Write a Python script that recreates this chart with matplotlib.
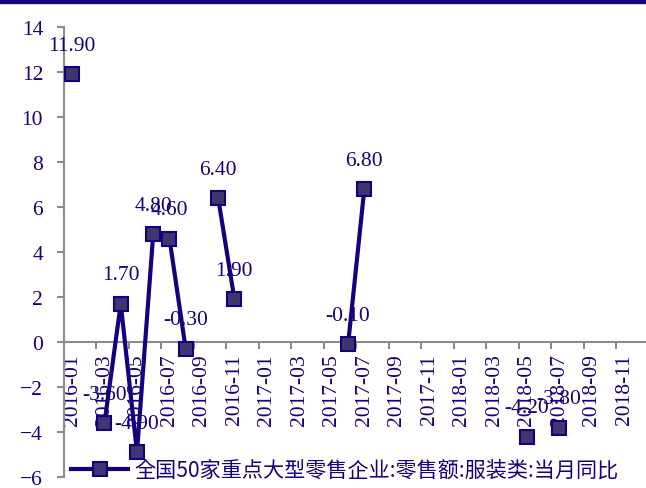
import numpy as np
import matplotlib
matplotlib.use("Agg")
import matplotlib.pyplot as plt
from matplotlib.lines import Line2D

plt.rcParams['font.family'] = ['Liberation Serif', 'Noto Sans CJK SC', 'DejaVu Sans']

# monthly categories 2016-01 .. 2018-12
months = ["%d-%02d" % (y, m) for y in (2016, 2017, 2018) for m in range(1, 13)]

nan = np.nan
values = [11.9, nan, -3.6, 1.7, -4.9, 4.8, 4.6, -0.3, nan, 6.4, 1.9, nan,
          nan, nan, nan, nan, nan, -0.1, 6.8, nan, nan, nan, nan, nan,
          nan, nan, nan, nan, -4.2, nan, -3.8, nan, nan, nan, nan, nan]

series_name = "全国50家重点大型零售企业:零售额:服装类:当月同比"

navy = "#15007d"
face = "#3d3670"
grey = "#8c8c8c"
fs = 15.5

W, H = 646, 489
fig = plt.figure(figsize=(W / 100, H / 100), dpi=100)
ax = fig.add_axes([63.9 / W, 1 - 478 / H, 584.6 / W, 450 / H])

x = np.arange(len(months))
ax.plot(x, values, color=navy, lw=3, marker="s", ms=10,
        mfc=face, mec=navy, mew=1.5, zorder=3)

for xi, v in zip(x, values):
    if not np.isnan(v):
        ax.annotate("%.2f" % v, (xi, v), xytext=(0, 14), textcoords="offset points",
                    ha="center", va="bottom", fontsize=fs, color=navy)

ax.set_xlim(-0.5, len(months) - 0.5)
ax.set_ylim(-6, 14)
ax.set_yticks(np.arange(-6, 15, 2))
ax.tick_params(axis="y", colors=grey, labelcolor=navy, labelsize=fs,
               length=5, width=1.5, pad=10)

# ticks at category boundaries, labels at category centres
ax.set_xticks(np.arange(-0.5, len(months), 2))
ax.set_xticklabels([])
ax.set_xticks(x[::2], minor=True)
ax.set_xticklabels(months[::2], minor=True)
ax.tick_params(axis="x", which="major", colors=grey, length=5, width=1.5)
ax.tick_params(axis="x", which="minor", length=0, pad=8, labelrotation=90,
               labelsize=fs, labelcolor=navy)

for s in ("top", "right"):
    ax.spines[s].set_visible(False)
ax.spines["bottom"].set_position(("data", 0))
ax.spines["bottom"].set_color(grey)
ax.spines["bottom"].set_linewidth(1.5)
ax.spines["left"].set_color(grey)
ax.spines["left"].set_linewidth(1.5)

handle = Line2D([], [], color=navy, lw=3, marker="s", ms=10,
                mfc=face, mec=navy, mew=1.5)
leg = fig.legend([handle], [series_name], loc="center left",
                 bbox_to_anchor=(52 / W, 1 - 471 / H), frameon=False,
                 handlelength=2.7, handletextpad=0.3,
                 prop={"family": ["Noto Sans CJK SC", "Liberation Serif"], "size": 15.2})
for t in leg.get_texts():
    t.set_color(navy)

# top band
fig.patches.append(plt.Rectangle((0, 1 - 4 / H), 1, 4 / H, transform=fig.transFigure,
                                 color="#120080", zorder=0))

fig.savefig("out.png", dpi=100)
